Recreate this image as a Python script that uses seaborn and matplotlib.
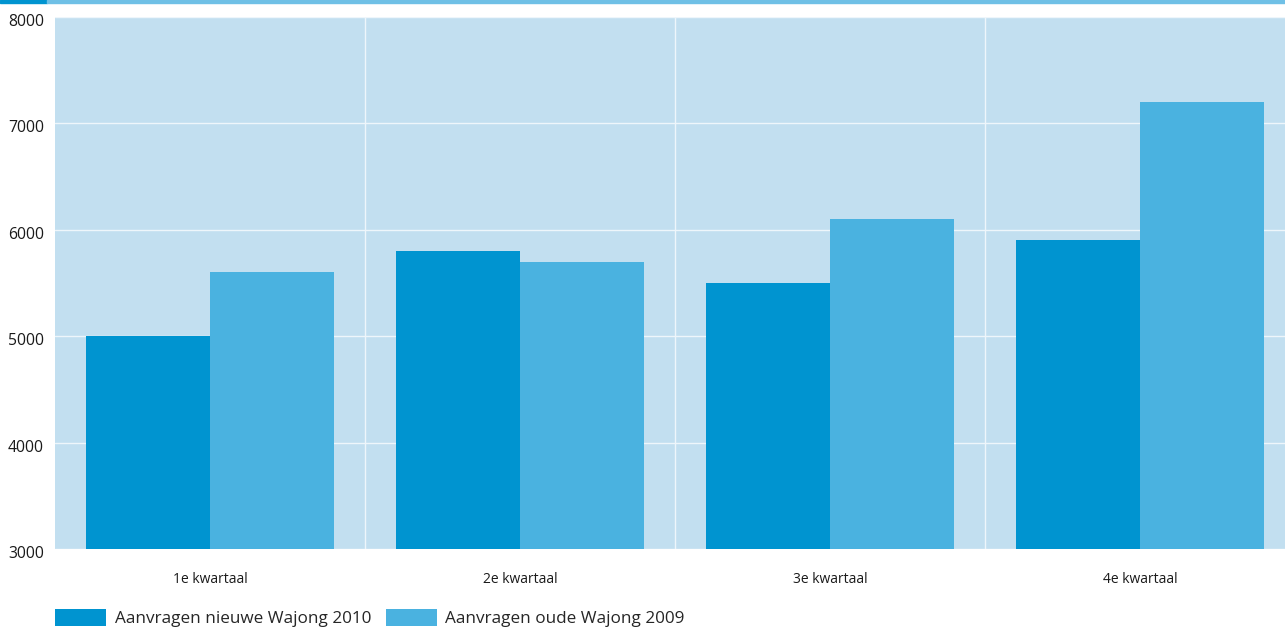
import matplotlib
matplotlib.use("Agg")
import matplotlib.pyplot as plt
from matplotlib.patches import Rectangle
from matplotlib.transforms import ScaledTranslation
import seaborn as sns
import pandas as pd

quarters = ["1e kwartaal", "2e kwartaal", "3e kwartaal", "4e kwartaal"]
series_names = ["Aanvragen nieuwe Wajong 2010", "Aanvragen oude Wajong 2009"]
nieuwe_2010 = [5000, 5800, 5500, 5900]
oude_2009 = [5600, 5700, 6100, 7200]
y_ticks = [3000, 4000, 5000, 6000, 7000, 8000]

df = pd.DataFrame({
    "kwartaal": quarters * 2,
    "reeks": [series_names[0]] * 4 + [series_names[1]] * 4,
    "aantal": nieuwe_2010 + oude_2009,
})

sns.set_theme(style="white")
plt.rcParams["font.family"] = ["Open Sans", "DejaVu Sans"]

colors = ["#0094d0", "#4ab2e0"]
bg = "#c2dff0"

fig = plt.figure(figsize=(12.85, 6.28), dpi=100)
# the plot area runs slightly past the right edge of the figure
ax = fig.add_axes([55 / 1285, (628 - 549) / 628, 1240 / 1285, 532 / 628])
ax.set_facecolor(bg)

sns.barplot(data=df, x="kwartaal", y="aantal", hue="reeks", palette=colors,
            width=0.8, saturation=1, ax=ax, linewidth=0, zorder=3)

ax.set_ylim(3000, 8000)
ax.set_xlim(-0.5, 3.5)
ax.set_yticks(y_ticks)
ax.set_yticklabels([str(v) for v in y_ticks])
ax.set_xticks(range(4))
ax.set_xticks([0.5, 1.5, 2.5], minor=True)
ax.grid(axis="y", which="major", color="#eef6fb", linewidth=1.0, zorder=1)
ax.grid(axis="x", which="minor", color="#eef6fb", linewidth=1.0, zorder=1)
ax.grid(axis="x", which="major", visible=False)
ax.set_axisbelow(True)
ax.tick_params(axis="both", which="both", length=0)
ax.tick_params(axis="y", labelsize=11.3, pad=8, labelcolor="#1a1a1a")
ax.tick_params(axis="x", labelsize=10, pad=16.5, labelcolor="#1a1a1a")
shift = ScaledTranslation(0, -3 / 100, fig.dpi_scale_trans)
for lbl in ax.get_yticklabels():
    lbl.set_transform(lbl.get_transform() + shift)
ax.set_xlabel("")
ax.set_ylabel("")
for s in ax.spines.values():
    s.set_visible(False)

sns.move_legend(ax, "center left", bbox_to_anchor=(0, -0.13), ncol=2,
                frameon=False, title=None, fontsize=12.3,
                handlelength=3.0, handleheight=1.2, handletextpad=0.5,
                columnspacing=0.85, borderaxespad=0, borderpad=0)

# coloured band along the top edge
fig.patches.append(Rectangle((0, 1 - 3 / 628), 47 / 1285, 3 / 628,
                             transform=fig.transFigure, color="#0094d0", zorder=5))
fig.patches.append(Rectangle((47 / 1285, 1 - 3 / 628), 1 - 47 / 1285, 3 / 628,
                             transform=fig.transFigure, color="#6fc0e6", zorder=5))

fig.savefig("out.png", dpi=100, facecolor="white")
